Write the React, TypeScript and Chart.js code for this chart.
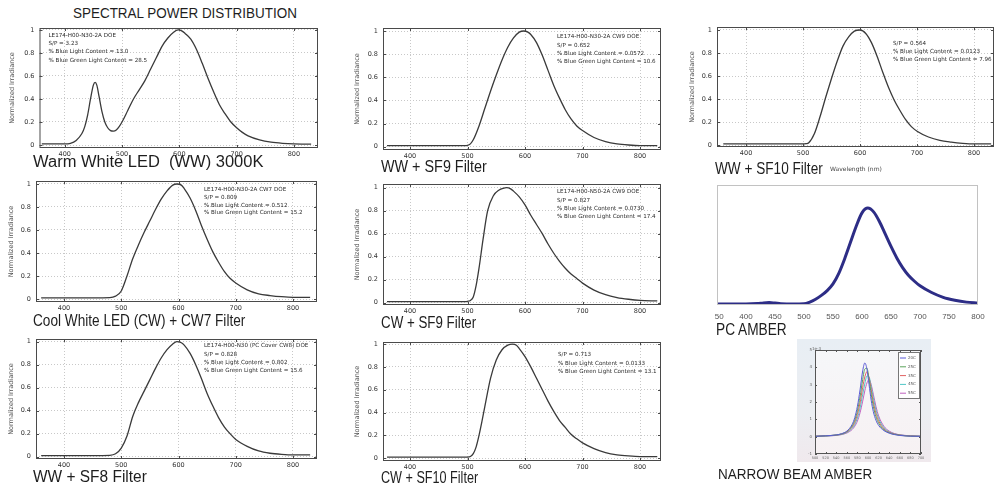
import React, { useEffect, useLayoutEffect, useRef } from "react";
import { Chart, registerables } from "chart.js";
Chart.register(...registerables);

// ---------- data ----------
const MPL_X_TICKS = [400, 500, 600, 700, 800];
const MPL_Y_TICKS = [0, 0.2, 0.4, 0.6, 0.8, 1];
const AMBER_X_TICKS = [350, 400, 450, 500, 550, 600, 650, 700, 750, 800];
const NB_X_TICKS = [500, 520, 540, 560, 580, 600, 620, 640, 660, 680, 700];
const NB_Y_TICKS = [-1, 0, 1, 2, 3, 4, 5];

// Warm White LED (WW) 3000K
const WL_WW = [360, 380, 400, 410, 420, 430, 435, 440, 445, 450, 453, 456, 460, 465, 470, 475, 480, 485, 490, 495, 500, 510, 520, 530, 540, 550, 560, 570, 580, 590, 598, 605, 610, 620, 630, 640, 650, 660, 670, 680, 690, 700, 710, 720, 740, 760, 780, 800, 830];
const IRR_WW = [0.01, 0.01, 0.01, 0.015, 0.04, 0.1, 0.16, 0.26, 0.4, 0.52, 0.545, 0.52, 0.42, 0.29, 0.2, 0.15, 0.125, 0.12, 0.13, 0.16, 0.2, 0.3, 0.4, 0.48, 0.56, 0.66, 0.76, 0.86, 0.93, 0.98, 1.0, 0.99, 0.97, 0.92, 0.83, 0.71, 0.58, 0.46, 0.35, 0.27, 0.2, 0.15, 0.11, 0.08, 0.045, 0.025, 0.015, 0.01, 0.008];
const NOTES_WW = ["LE174-H00-N30-2A DOE", "S/P = 3.23", "% Blue Light Content = 13.0", "% Blue Green Light Content = 28.5"];

// Cool White LED (CW) + CW7 Filter
const WL_CW7 = [360, 400, 450, 480, 490, 500, 510, 520, 530, 540, 550, 560, 570, 580, 590, 597, 605, 610, 620, 630, 640, 650, 660, 670, 680, 690, 700, 720, 740, 760, 780, 800, 830];
const IRR_CW7 = [0.01, 0.01, 0.01, 0.012, 0.025, 0.07, 0.2, 0.35, 0.47, 0.58, 0.68, 0.78, 0.87, 0.94, 0.99, 1.0, 0.99, 0.96, 0.88, 0.77, 0.64, 0.52, 0.41, 0.32, 0.24, 0.18, 0.14, 0.08, 0.045, 0.03, 0.02, 0.015, 0.015];
const NOTES_CW7 = ["LE174-H00-N30-2A CW7 DOE", "S/P = 0.809", "% Blue Light Content = 0.512", "% Blue Green Light Content = 15.2"];

// WW + SF8 Filter
const WL_SF8 = [360, 400, 450, 480, 490, 500, 510, 520, 530, 540, 550, 560, 570, 580, 590, 597, 605, 610, 620, 630, 640, 650, 660, 670, 680, 690, 700, 720, 740, 760, 780, 800, 830];
const IRR_SF8 = [0.01, 0.01, 0.01, 0.012, 0.025, 0.075, 0.18, 0.35, 0.47, 0.57, 0.67, 0.77, 0.86, 0.93, 0.98, 1.0, 0.99, 0.97, 0.9, 0.8, 0.68, 0.55, 0.44, 0.34, 0.26, 0.2, 0.15, 0.09, 0.05, 0.03, 0.02, 0.015, 0.015];
const NOTES_SF8 = ["LE174-H00-N30 (PC Cover CW8) DOE", "S/P = 0.828", "% Blue Light Content = 0.802", "% Blue Green Light Content = 15.6"];

// WW + SF9 Filter
const WL_WW_SF9 = [360, 400, 450, 495, 500, 505, 510, 520, 530, 540, 550, 560, 570, 580, 590, 598, 605, 610, 620, 630, 640, 650, 660, 670, 680, 690, 700, 720, 740, 760, 780, 800, 830];
const IRR_WW_SF9 = [0.01, 0.01, 0.01, 0.01, 0.012, 0.025, 0.06, 0.18, 0.33, 0.48, 0.62, 0.75, 0.86, 0.94, 0.99, 1.0, 0.99, 0.97, 0.9, 0.79, 0.66, 0.53, 0.42, 0.32, 0.24, 0.18, 0.14, 0.08, 0.045, 0.025, 0.015, 0.01, 0.01];
const NOTES_WW_SF9 = ["LE174-H00-N30-2A CW9 DOE", "S/P = 0.652", "% Blue Light Content = 0.0572", "% Blue Green Light Content = 10.6"];

// CW + SF9 Filter
const WL_CW_SF9 = [360, 400, 450, 495, 500, 505, 510, 515, 520, 527, 535, 545, 555, 562, 568, 575, 580, 590, 600, 610, 620, 630, 640, 650, 660, 670, 680, 690, 700, 720, 740, 760, 780, 800, 830];
const IRR_CW_SF9 = [0.01, 0.01, 0.01, 0.01, 0.012, 0.02, 0.05, 0.15, 0.3, 0.55, 0.8, 0.93, 0.98, 0.995, 1.0, 0.99, 0.97, 0.92, 0.85, 0.76, 0.68, 0.6, 0.51, 0.43, 0.36, 0.3, 0.25, 0.21, 0.17, 0.11, 0.07, 0.045, 0.03, 0.02, 0.015];
const NOTES_CW_SF9 = ["LE174-H00-N50-2A CW9 DOE", "S/P = 0.827", "% Blue Light Content = 0.0730", "% Blue Green Light Content = 17.4"];

// CW + SF10 Filter
const WL_CW_SF10 = [360, 400, 450, 500, 505, 510, 515, 520, 525, 530, 540, 550, 560, 570, 578, 585, 590, 600, 610, 620, 630, 640, 650, 660, 670, 680, 690, 700, 720, 740, 760, 780, 800, 830];
const IRR_CW_SF10 = [0.01, 0.01, 0.01, 0.01, 0.015, 0.04, 0.1, 0.2, 0.32, 0.45, 0.7, 0.86, 0.95, 0.99, 1.0, 0.99, 0.96, 0.89, 0.8, 0.7, 0.6, 0.5, 0.41, 0.33, 0.27, 0.21, 0.17, 0.135, 0.085, 0.05, 0.03, 0.02, 0.015, 0.015];
const NOTES_CW_SF10 = ["S/P = 0.713", "% Blue Light Content = 0.0133", "% Blue Green Light Content = 13.1"];

// WW + SF10 Filter
const WL_WW_SF10 = [360, 400, 450, 500, 505, 510, 520, 530, 540, 550, 560, 570, 580, 590, 600, 610, 620, 630, 640, 650, 660, 670, 680, 690, 700, 720, 740, 760, 780, 800, 830];
const IRR_WW_SF10 = [0.01, 0.01, 0.01, 0.01, 0.012, 0.02, 0.1, 0.25, 0.42, 0.58, 0.73, 0.86, 0.94, 0.99, 1.0, 0.97, 0.89, 0.77, 0.63, 0.5, 0.39, 0.3, 0.22, 0.16, 0.12, 0.07, 0.04, 0.025, 0.015, 0.01, 0.01];
const NOTES_WW_SF10 = ["S/P = 0.564", "% Blue Light Content = 0.0123", "% Blue Green Light Content = 7.96"];

// PC AMBER
const WL_AMBER = [350, 400, 420, 430, 440, 450, 460, 480, 500, 510, 520, 530, 540, 550, 560, 570, 580, 590, 600, 610, 620, 630, 640, 650, 660, 670, 680, 690, 700, 720, 740, 760, 780, 800];
const IRR_AMBER = [0, 0, 0.005, 0.012, 0.015, 0.01, 0.004, 0, 0.002, 0.02, 0.05, 0.09, 0.14, 0.21, 0.32, 0.47, 0.64, 0.81, 0.95, 1.0, 0.96, 0.86, 0.73, 0.6, 0.48, 0.38, 0.3, 0.24, 0.19, 0.12, 0.07, 0.04, 0.02, 0.01];

// NARROW BEAM AMBER (x1e-3)
const WL_NB = [500, 520, 540, 550, 560, 570, 575, 580, 585, 590, 594, 598, 602, 606, 610, 615, 620, 630, 640, 650, 660, 680, 700];
const NB_LABELS = ["20C", "25C", "35C", "45C", "55C"];
const NB_COLORS = ["#5b5bd6", "#5aa35a", "#e06262", "#4fc6c6", "#c062c0"];
const NB_20C = [0.02, 0.05, 0.1, 0.17, 0.32, 0.7, 1.1, 1.75, 2.7, 3.8, 4.25, 3.9, 3.0, 2.1, 1.45, 0.95, 0.65, 0.35, 0.2, 0.12, 0.07, 0.03, 0.02];
const NB_25C = [0.02, 0.05, 0.1, 0.16, 0.3, 0.62, 0.95, 1.5, 2.3, 3.3, 3.9, 3.95, 3.3, 2.45, 1.75, 1.15, 0.78, 0.4, 0.22, 0.13, 0.08, 0.03, 0.02];
const NB_35C = [0.02, 0.05, 0.09, 0.15, 0.27, 0.55, 0.82, 1.28, 1.95, 2.85, 3.45, 3.75, 3.4, 2.7, 2.0, 1.35, 0.92, 0.45, 0.25, 0.15, 0.09, 0.04, 0.02];
const NB_45C = [0.02, 0.04, 0.08, 0.13, 0.24, 0.48, 0.7, 1.08, 1.65, 2.45, 3.05, 3.5, 3.45, 2.9, 2.25, 1.55, 1.05, 0.52, 0.28, 0.16, 0.1, 0.04, 0.02];
const NB_55C = [0.02, 0.04, 0.07, 0.12, 0.21, 0.41, 0.6, 0.9, 1.38, 2.05, 2.65, 3.1, 3.3, 3.0, 2.45, 1.75, 1.2, 0.6, 0.32, 0.18, 0.11, 0.05, 0.02];
const NB_SERIES = [NB_20C, NB_25C, NB_35C, NB_45C, NB_55C];

// ---------- panel layout ----------
type MplCfg = {
  wl: number[];
  irr: number[];
  notes: string[];
  plot: [number, number, number, number];
  xr: [number, number];
  yr: [number, number];
  titleX: number;
  noteX: number;
  noteY: number;
  step: number;
};

const MPL_PANELS: MplCfg[] = [
  { wl: WL_WW, irr: IRR_WW, notes: NOTES_WW, plot: [39, 28, 317, 148], xr: [356, 842], yr: [-0.026, 1.017], titleX: 11.5, noteX: 48, noteY: 35.5, step: 8.2 },
  { wl: WL_CW7, irr: IRR_CW7, notes: NOTES_CW7, plot: [36, 181, 317, 302], xr: [351, 842], yr: [-0.026, 1.026], titleX: 11, noteX: 204, noteY: 189.5, step: 7.8 },
  { wl: WL_SF8, irr: IRR_SF8, notes: NOTES_SF8, plot: [36, 339, 317, 459], xr: [351, 842], yr: [-0.02, 1.023], titleX: 11, noteX: 204, noteY: 346, step: 8.2 },
  { wl: WL_WW_SF9, irr: IRR_WW_SF9, notes: NOTES_WW_SF9, plot: [383, 28, 661, 150], xr: [353, 836.5], yr: [-0.028, 1.026], titleX: 357, noteX: 557, noteY: 37, step: 8.2 },
  { wl: WL_CW_SF9, irr: IRR_CW_SF9, notes: NOTES_CW_SF9, plot: [383, 184, 661, 305], xr: [353, 836.5], yr: [-0.02, 1.032], titleX: 357, noteX: 557, noteY: 192, step: 8.2 },
  { wl: WL_CW_SF10, irr: IRR_CW_SF10, notes: NOTES_CW_SF10, plot: [383, 342, 661, 461], xr: [353, 836.5], yr: [-0.024, 1.018], titleX: 357, noteX: 558, noteY: 355, step: 8.3 },
  { wl: WL_WW_SF10, irr: IRR_WW_SF10, notes: NOTES_WW_SF10, plot: [717, 27, 994, 147], xr: [349, 835], yr: [-0.017, 1.026], titleX: 692, noteX: 893, noteY: 43.3, step: 7.9 },
];

// x, vertical centre, font size, target width
const CAPTIONS = [
  { text: "SPECTRAL POWER DISTRIBUTION", x: 73, cy: 13, size: 14, w: 224 },
  { text: "Warm White LED  (WW) 3000K", x: 33, cy: 162, size: 16, w: 230 },
  { text: "Cool White LED (CW) + CW7 Filter", x: 33, cy: 321, size: 16, w: 212 },
  { text: "WW + SF8 Filter", x: 33, cy: 477, size: 16, w: 114 },
  { text: "WW + SF9 Filter", x: 381, cy: 167, size: 16, w: 106 },
  { text: "CW + SF9 Filter", x: 381, cy: 323, size: 16, w: 95 },
  { text: "CW + SF10 Filter", x: 381, cy: 478, size: 16, w: 97 },
  { text: "WW + SF10 Filter", x: 715, cy: 169, size: 16, w: 108 },
  { text: "PC AMBER", x: 716, cy: 330, size: 16, w: 71 },
  { text: "NARROW BEAM AMBER", x: 718, cy: 474, size: 14, w: 154 },
];

const fixTicks = (vals: number[]) => (s: any) => {
  s.ticks = vals.map((v) => ({ value: v }));
};

function Caption({ c }: { c: (typeof CAPTIONS)[number] }) {
  const ref = useRef<HTMLDivElement>(null);
  useLayoutEffect(() => {
    const el = ref.current;
    if (!el) return;
    const w = el.scrollWidth;
    if (w > 0) el.style.transform = `scaleX(${c.w / w})`;
  }, []);
  return (
    <div
      ref={ref}
      style={{
        position: "absolute",
        left: c.x,
        top: c.cy - c.size / 2,
        fontSize: c.size,
        lineHeight: `${c.size}px`,
        color: "#1e1e1e",
        whiteSpace: "pre",
        transformOrigin: "0 50%",
      }}
    >
      {c.text}
    </div>
  );
}

function MplPanel({ cfg }: { cfg: MplCfg }) {
  const ref = useRef<HTMLCanvasElement>(null);
  const [pl, pt, pr, pb] = cfg.plot;
  const cLeft = cfg.titleX - 5;
  const yW = pl - cLeft;
  const padTop = 5;
  const padRight = 5;
  const xH = 14;
  const cTop = pt - padTop;
  const W = Math.round(pr - cLeft + padRight);
  const H = Math.round(pb - pt + padTop + xH);

  useEffect(() => {
    const frame = {
      id: "mplFrame",
      afterDraw(chart: any) {
        const { ctx, chartArea: a, scales } = chart;
        ctx.save();
        ctx.strokeStyle = "#4a4a4a";
        ctx.lineWidth = 1;
        ctx.strokeRect(a.left + 0.5, a.top + 0.5, a.right - a.left - 1, a.bottom - a.top - 1);
        ctx.beginPath();
        MPL_X_TICKS.forEach((v) => {
          const px = Math.round(scales.x.getPixelForValue(v)) + 0.5;
          ctx.moveTo(px, a.bottom);
          ctx.lineTo(px, a.bottom - 3);
          ctx.moveTo(px, a.top);
          ctx.lineTo(px, a.top + 3);
        });
        MPL_Y_TICKS.forEach((v) => {
          const py = Math.round(scales.y.getPixelForValue(v)) + 0.5;
          ctx.moveTo(a.left, py);
          ctx.lineTo(a.left + 3, py);
          ctx.moveTo(a.right, py);
          ctx.lineTo(a.right - 3, py);
        });
        ctx.stroke();
        ctx.fillStyle = "#2a2a2a";
        ctx.font = '5.6px "DejaVu Sans", sans-serif';
        ctx.textAlign = "left";
        ctx.textBaseline = "middle";
        cfg.notes.forEach((t, i) => {
          ctx.fillText(t, cfg.noteX - cLeft, cfg.noteY - cTop + i * cfg.step);
        });
        ctx.restore();
      },
    };
    const chart = new Chart(ref.current as HTMLCanvasElement, {
      type: "line",
      data: {
        datasets: [
          {
            data: cfg.wl.map((x, i) => ({ x, y: cfg.irr[i] })),
            borderColor: "#3a3a3a",
            borderWidth: 1.3,
            pointRadius: 0,
            cubicInterpolationMode: "monotone",
            fill: false,
          },
        ],
      },
      options: {
        animation: false,
        responsive: false,
        maintainAspectRatio: false,
        devicePixelRatio: 1,
        events: [],
        layout: { padding: { left: 0, top: padTop, right: padRight, bottom: 0 } },
        plugins: { legend: { display: false }, tooltip: { enabled: false } },
        scales: {
          x: {
            type: "linear",
            min: cfg.xr[0],
            max: cfg.xr[1],
            afterBuildTicks: fixTicks(MPL_X_TICKS),
            afterFit: (s: any) => {
              s.height = xH;
              s.paddingLeft = 0;
              s.paddingRight = 0;
            },
            grid: { color: "#c8c8c8", drawTicks: false },
            border: { display: false, dash: [1, 2] },
            ticks: {
              font: { family: '"DejaVu Sans", sans-serif', size: 6.5 },
              color: "#333",
              padding: 2.5,
              maxRotation: 0,
              autoSkip: false,
              callback: (v: any) => String(v),
            },
          },
          y: {
            type: "linear",
            min: cfg.yr[0],
            max: cfg.yr[1],
            afterBuildTicks: fixTicks(MPL_Y_TICKS),
            afterFit: (s: any) => {
              s.width = yW;
              s.paddingTop = 0;
              s.paddingBottom = 0;
            },
            grid: { color: "#c8c8c8", drawTicks: false },
            border: { display: false, dash: [1, 2] },
            title: {
              display: true,
              text: "Normalized Irradiance",
              font: { family: '"DejaVu Sans", sans-serif', size: 6.5 },
              color: "#555",
              padding: { top: 1.1, bottom: 0 },
            },
            ticks: {
              font: { family: '"DejaVu Sans", sans-serif', size: 6.5 },
              color: "#333",
              padding: 5,
              autoSkip: false,
              callback: (v: any) => String(Number(Number(v).toFixed(1))),
            },
          },
        },
      },
      plugins: [frame],
    } as any);
    return () => chart.destroy();
  }, []);

  return (
    <canvas
      ref={ref}
      width={W}
      height={H}
      style={{ position: "absolute", left: cLeft, top: cTop, width: W, height: H }}
    />
  );
}

function AmberPanel() {
  const ref = useRef<HTMLCanvasElement>(null);
  // plot box (717,185)-(978,305)
  const cLeft = 715;
  const cTop = 180;
  const W = 275;
  const H = 145;
  useEffect(() => {
    const frame = {
      id: "amberFrame",
      afterDraw(chart: any) {
        const { ctx, chartArea: a } = chart;
        ctx.save();
        ctx.strokeStyle = "#c2c2c2";
        ctx.lineWidth = 1;
        ctx.strokeRect(a.left + 0.5, a.top + 0.5, a.right - a.left - 1, a.bottom - a.top - 1);
        ctx.restore();
      },
    };
    const chart = new Chart(ref.current as HTMLCanvasElement, {
      type: "line",
      data: {
        datasets: [
          {
            data: WL_AMBER.map((x, i) => ({ x, y: IRR_AMBER[i] })),
            borderColor: "#2d2d86",
            borderWidth: 3,
            pointRadius: 0,
            cubicInterpolationMode: "monotone",
            fill: false,
          },
        ],
      },
      options: {
        animation: false,
        responsive: false,
        maintainAspectRatio: false,
        devicePixelRatio: 1,
        events: [],
        layout: { padding: { left: 2, top: 5, right: W - 2 - 261, bottom: 0 } },
        plugins: { legend: { display: false }, tooltip: { enabled: false } },
        scales: {
          x: {
            type: "linear",
            min: 350,
            max: 800,
            afterBuildTicks: fixTicks(AMBER_X_TICKS),
            afterFit: (s: any) => {
              s.height = H - 5 - 120;
              s.paddingLeft = 0;
              s.paddingRight = 0;
            },
            grid: { display: false, drawTicks: false },
            border: { display: false },
            ticks: {
              font: { family: '"Liberation Sans", Arial, sans-serif', size: 8 },
              color: "#555",
              padding: 7,
              maxRotation: 0,
              autoSkip: false,
              callback: (v: any) => String(v),
            },
          },
          y: {
            type: "linear",
            display: false,
            min: -0.01,
            max: 1.24,
            afterFit: (s: any) => {
              s.width = 0;
            },
          },
        },
      },
      plugins: [frame],
    } as any);
    return () => chart.destroy();
  }, []);
  return (
    <canvas
      ref={ref}
      width={W}
      height={H}
      style={{ position: "absolute", left: cLeft, top: cTop, width: W, height: H }}
    />
  );
}

function NarrowBeamPanel() {
  const ref = useRef<HTMLCanvasElement>(null);
  // outer (797,339)-(931,462); plot (815,350)-(921,454)
  const cLeft = 797;
  const cTop = 339;
  const W = 134;
  const H = 123;
  useEffect(() => {
    const deco = {
      id: "nbDeco",
      beforeDatasetsDraw(chart: any) {
        const { ctx, chartArea: a } = chart;
        ctx.save();
        const g = ctx.createLinearGradient(0, a.top, 0, a.bottom);
        g.addColorStop(0, "#f6f7f9");
        g.addColorStop(1, "#f7f1f3");
        ctx.fillStyle = g;
        ctx.fillRect(a.left, a.top, a.right - a.left, a.bottom - a.top);
        ctx.restore();
      },
      afterDraw(chart: any) {
        const { ctx, chartArea: a, scales } = chart;
        ctx.save();
        ctx.strokeStyle = "#555";
        ctx.lineWidth = 1;
        ctx.strokeRect(a.left + 0.5, a.top + 0.5, a.right - a.left - 1, a.bottom - a.top - 1);
        ctx.beginPath();
        NB_X_TICKS.forEach((v) => {
          const px = Math.round(scales.x.getPixelForValue(v)) + 0.5;
          ctx.moveTo(px, a.bottom);
          ctx.lineTo(px, a.bottom - 2);
          ctx.moveTo(px, a.top);
          ctx.lineTo(px, a.top + 2);
        });
        NB_Y_TICKS.forEach((v) => {
          const py = Math.round(scales.y.getPixelForValue(v)) + 0.5;
          ctx.moveTo(a.left, py);
          ctx.lineTo(a.left + 2, py);
          ctx.moveTo(a.right, py);
          ctx.lineTo(a.right - 2, py);
        });
        ctx.stroke();
        ctx.fillStyle = "#666";
        ctx.font = '4px "DejaVu Sans", sans-serif';
        ctx.textAlign = "left";
        ctx.textBaseline = "bottom";
        ctx.fillText("1e-3", a.left - 3, a.top + 1);
        // legend box
        const bw = 22;
        const bh = 47;
        const bx = a.right - bw - 1;
        const by = a.top + 2;
        ctx.fillStyle = "#ffffff";
        ctx.fillRect(bx, by, bw, bh);
        ctx.strokeStyle = "#777";
        ctx.strokeRect(bx + 0.5, by + 0.5, bw - 1, bh - 1);
        ctx.textBaseline = "middle";
        NB_LABELS.forEach((lab, i) => {
          const yy = by + 6 + i * 8.8;
          ctx.strokeStyle = NB_COLORS[i];
          ctx.lineWidth = 1;
          ctx.beginPath();
          ctx.moveTo(bx + 2, yy);
          ctx.lineTo(bx + 8, yy);
          ctx.stroke();
          ctx.fillStyle = "#555";
          ctx.fillText(lab, bx + 10, yy);
        });
        ctx.restore();
      },
    };
    const chart = new Chart(ref.current as HTMLCanvasElement, {
      type: "line",
      data: {
        datasets: NB_SERIES.map((s, k) => ({
          label: NB_LABELS[k],
          data: WL_NB.map((x, i) => ({ x, y: s[i] })),
          borderColor: NB_COLORS[k],
          borderWidth: 1,
          pointRadius: 0,
          cubicInterpolationMode: "monotone",
          fill: false,
        })),
      },
      options: {
        animation: false,
        responsive: false,
        maintainAspectRatio: false,
        devicePixelRatio: 1,
        events: [],
        layout: { padding: { left: 0, top: 11, right: 10, bottom: 0 } },
        plugins: { legend: { display: false }, tooltip: { enabled: false } },
        scales: {
          x: {
            type: "linear",
            min: 500,
            max: 700,
            afterBuildTicks: fixTicks(NB_X_TICKS),
            afterFit: (s: any) => {
              s.height = 8;
              s.paddingLeft = 0;
              s.paddingRight = 0;
            },
            grid: { display: false, drawTicks: false },
            border: { display: false },
            ticks: {
              font: { family: '"DejaVu Sans", sans-serif', size: 3.5 },
              color: "#666",
              padding: 2,
              maxRotation: 0,
              autoSkip: false,
              callback: (v: any) => String(v),
            },
          },
          y: {
            type: "linear",
            min: -1,
            max: 5,
            afterBuildTicks: fixTicks(NB_Y_TICKS),
            afterFit: (s: any) => {
              s.width = 18;
              s.paddingTop = 0;
              s.paddingBottom = 0;
            },
            grid: { display: false, drawTicks: false },
            border: { display: false },
            ticks: {
              font: { family: '"DejaVu Sans", sans-serif', size: 4 },
              color: "#666",
              padding: 3,
              autoSkip: false,
              callback: (v: any) => String(v),
            },
          },
        },
      },
      plugins: [deco],
    } as any);
    return () => chart.destroy();
  }, []);
  return (
    <canvas
      ref={ref}
      width={W}
      height={H}
      style={{
        position: "absolute",
        left: cLeft,
        top: cTop,
        width: W,
        height: H,
        background: "linear-gradient(180deg, #e8eef4 0%, #eceef2 60%, #f0e9ed 100%)",
      }}
    />
  );
}

export default function App() {
  return (
    <div
      style={{
        position: "fixed",
        left: 0,
        top: 0,
        width: 996,
        height: 485,
        overflow: "hidden",
        background: "#ffffff",
        fontFamily: '"Liberation Sans", Arial, sans-serif',
      }}
    >
      {MPL_PANELS.map((cfg, i) => (
        <MplPanel key={i} cfg={cfg} />
      ))}
      <AmberPanel />
      <NarrowBeamPanel />
      {CAPTIONS.map((c, i) => (
        <Caption key={i} c={c} />
      ))}
      <div
        style={{
          position: "absolute",
          left: 830,
          top: 166,
          fontSize: 6,
          lineHeight: "6px",
          color: "#444",
          fontFamily: '"DejaVu Sans", sans-serif',
          whiteSpace: "pre",
        }}
      >
        Wavelength (nm)
      </div>
    </div>
  );
}
